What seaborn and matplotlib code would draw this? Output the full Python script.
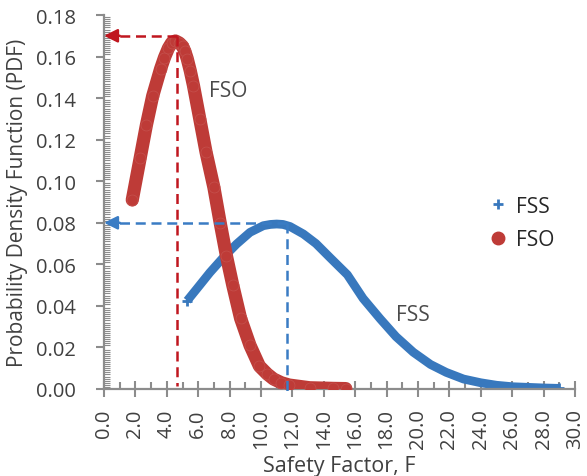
import matplotlib
matplotlib.use("Agg")
import matplotlib.pyplot as plt
import seaborn as sns
import pandas as pd
from matplotlib.lines import Line2D
from matplotlib.ticker import FixedLocator, MultipleLocator, FormatStrFormatter

# Safety factor PDF samples for the two methods
fso_x = [1.8, 2.3, 2.7, 3.1, 3.6, 3.85, 4.1, 4.3, 4.55, 4.8, 5.0, 5.15, 5.3,
         5.5, 5.7, 6.1, 6.5, 7.0, 7.4, 7.8, 8.2, 8.7, 9.3, 9.9, 10.4, 10.8,
         11.3, 11.8, 13.1, 14.6, 15.4]
fso_y = [0.091, 0.111, 0.127, 0.141, 0.154, 0.1595, 0.164, 0.1665, 0.1675,
         0.1665, 0.165, 0.1625, 0.159, 0.153, 0.146, 0.130, 0.114, 0.097,
         0.080, 0.064, 0.050, 0.034, 0.021, 0.011, 0.0072, 0.0048, 0.0030,
         0.0019, 0.0006, 0.0003, 0.0002]

fss_x = [5.3, 5.9, 6.75, 7.6, 8.45, 9.3, 10.15, 10.6, 11.0, 11.4, 11.85,
         12.7, 13.5, 14.4, 15.5, 16.5, 17.6, 18.6, 19.7, 20.8, 21.8, 22.9,
         24.0, 25.0, 26.0, 27.0, 28.0, 29.0]
fss_y = [0.0425, 0.0481, 0.0561, 0.0633, 0.0698, 0.0754, 0.0786, 0.0792,
         0.0794, 0.0792, 0.0782, 0.0746, 0.0700, 0.0632, 0.0550, 0.0436,
         0.0337, 0.0252, 0.0177, 0.0118, 0.0080, 0.0048, 0.0030, 0.0018,
         0.0011, 0.0008, 0.0005, 0.0003]

# Peak markers (F, PDF)
fso_peak = [4.65, 0.17]
fss_peak = [11.65, 0.08]

x_ticks = [0.0, 2.0, 4.0, 6.0, 8.0, 10.0, 12.0, 14.0, 16.0, 18.0, 20.0,
           22.0, 24.0, 26.0, 28.0, 30.0]
y_ticks = [0.00, 0.02, 0.04, 0.06, 0.08, 0.10, 0.12, 0.14, 0.16, 0.18]

sns.set_theme(style="white")
plt.rcParams["font.family"] = ["Open Sans", "DejaVu Sans"]

RED = "#BE3B37"
RED_DASH = "#C0161F"
BLUE = "#3878BD"
BLUE_DASH = "#3A7CC4"
AXIS_GRAY = "#8C8C8C"
TEXT_GRAY = "#404040"

fig = plt.figure(figsize=(5.87, 4.77), dpi=100)
ax = fig.add_axes([104 / 587, 87 / 477, 471 / 587, 374 / 477])

fss = pd.DataFrame({"F": fss_x, "PDF": fss_y})
fso = pd.DataFrame({"F": fso_x, "PDF": fso_y})

# FSS curve: dense band of plus markers
sns.lineplot(data=fss, x="F", y="PDF", ax=ax, color=BLUE, lw=6.3,
             solid_capstyle="butt", solid_joinstyle="round", zorder=2,
             legend=False)
sns.scatterplot(data=fss.iloc[[0, -1]], x="F", y="PDF", ax=ax, color=BLUE,
                marker="+", s=45, linewidth=2, zorder=2, legend=False)

# FSO curve: dense band of circle markers
sns.lineplot(data=fso, x="F", y="PDF", ax=ax, color=RED, lw=9.5,
             solid_capstyle="round", solid_joinstyle="round", zorder=3,
             legend=False)
sns.scatterplot(data=fso, x="F", y="PDF", ax=ax, color=RED, marker="o",
                s=62, edgecolor="#C5514D", linewidth=0.5, zorder=3,
                legend=False)

# Dashed guides to the peaks, with arrowheads on the PDF axis
dash = (4, 2.3)
for (px, py), c, ybot in ((fso_peak, RED_DASH, 0.0015),
                          (fss_peak, BLUE_DASH, -0.0035)):
    ax.plot([px, 0.9], [py, py], color=c, lw=1.8, dashes=dash, zorder=5)
    ax.plot([px, px], [py, ybot], color=c, lw=1.8, dashes=dash, zorder=5,
            clip_on=False)
    ax.annotate("", xy=(0.0, py), xytext=(1.0, py),
                arrowprops=dict(arrowstyle="-|>", color=c, lw=1.8,
                                mutation_scale=20, shrinkA=0, shrinkB=0),
                zorder=6, annotation_clip=False)

# Curve labels
ax.text(7.9, 0.1435, "FSO", ha="center", va="center", fontsize=15,
        color="#4A4A4A")
ax.text(19.65, 0.036, "FSS", ha="center", va="center", fontsize=15,
        color="#4A4A4A")

# Axes formatting
ax.set_xlim(0, 30)
ax.set_ylim(0, 0.18)
ax.xaxis.set_major_locator(FixedLocator(x_ticks))
ax.xaxis.set_major_formatter(FormatStrFormatter("%.1f"))
ax.xaxis.set_minor_locator(MultipleLocator(1.0))
ax.yaxis.set_major_locator(FixedLocator(y_ticks))
ax.yaxis.set_major_formatter(FormatStrFormatter("%.2f"))
ax.yaxis.set_minor_locator(MultipleLocator(0.001))

for side in ("top", "right"):
    ax.spines[side].set_visible(False)
for side in ("left", "bottom"):
    ax.spines[side].set_color(AXIS_GRAY)
    ax.spines[side].set_linewidth(1.6)

ax.tick_params(axis="x", which="major", direction="inout", length=12,
               width=1.5, color=AXIS_GRAY, pad=8, labelsize=14.5,
               labelcolor=TEXT_GRAY, labelrotation=90, bottom=True)
ax.tick_params(axis="x", which="minor", direction="in", length=5,
               width=1.5, color=AXIS_GRAY, bottom=True)
ax.tick_params(axis="y", which="major", direction="out", length=6,
               width=1.5, color=AXIS_GRAY, pad=14, labelsize=14.5,
               labelcolor=TEXT_GRAY, left=True)
ax.tick_params(axis="y", which="minor", direction="in", length=4,
               width=0.8, color=AXIS_GRAY, left=True)

ax.set_xlabel("Safety Factor, F", fontsize=15.5, color=TEXT_GRAY,
              labelpad=5)
ax.set_ylabel("Probability Density Function (PDF)", fontsize=15,
              color=TEXT_GRAY, labelpad=6)
ax.grid(False)

handles = [
    Line2D([], [], marker="+", color=BLUE, ls="none", ms=7, mew=2),
    Line2D([], [], marker="o", color=RED, ls="none", ms=9),
]
leg = ax.legend(handles, ["FSS", "FSO"], loc="center left",
                bbox_to_anchor=(0.8195, 0.444), frameon=False,
                fontsize=15, handlelength=0.8, handletextpad=0.45,
                labelspacing=0.6, borderpad=0, borderaxespad=0)
for t in leg.get_texts():
    t.set_color("#262626")

fig.savefig("out.png", dpi=100)
